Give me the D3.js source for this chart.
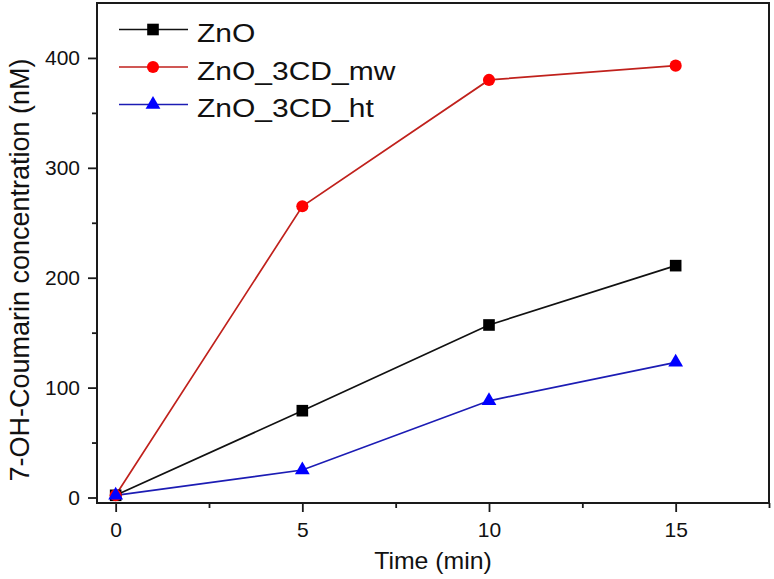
<!DOCTYPE html>
<html><head><meta charset="utf-8">
<script src="https://cdn.jsdelivr.net/npm/d3@7"></script>
<style>body{margin:0;background:#fff}svg{display:block}text{font-family:"Liberation Sans",Arial,sans-serif;fill:#111}</style>
</head><body>
<svg id="c" width="774" height="579"></svg>
<script>
const times = [0, 5, 10, 15];
const seriesNames = ["ZnO", "ZnO_3CD_mw", "ZnO_3CD_ht"];
const znoValues = [2, 79, 157, 211];
const mwValues = [2, 265, 380, 393];
const htValues = [2, 25, 88, 123];
const xTicks = [0, 5, 10, 15];
const yTicks = [0, 100, 200, 300, 400];

const svg = d3.select("#c");
const L = 97, R = 769, T = 3, B = 503;
const x = d3.scaleLinear().domain([-0.5, 17.5]).range([L, R]);
const y = d3.scaleLinear().domain([-5, 450]).range([B, T]);
const axisColor = "#1a1a1a";

// minor ticks
const xMinor = [2.5, 7.5, 12.5, 17.5];
const yMinor = [50, 150, 250, 350];
svg.append("g").attr("transform", `translate(0,${B})`)
  .call(d3.axisBottom(x).tickValues(xMinor).tickSize(5).tickFormat(""))
  .call(g => g.select(".domain").remove())
  .call(g => g.selectAll("line").attr("stroke", axisColor).attr("stroke-width", 1.8));
svg.append("g").attr("transform", `translate(${L},0)`)
  .call(d3.axisLeft(y).tickValues(yMinor).tickSize(5).tickFormat(""))
  .call(g => g.select(".domain").remove())
  .call(g => g.selectAll("line").attr("stroke", axisColor).attr("stroke-width", 1.8));

// major axes
const gx = svg.append("g").attr("transform", `translate(0,${B})`)
  .call(d3.axisBottom(x).tickValues(xTicks).tickSize(9).tickPadding(10).tickFormat(d3.format("d")));
gx.select(".domain").remove();
gx.selectAll("line").attr("stroke", axisColor).attr("stroke-width", 1.8);
gx.selectAll("text").attr("font-size", 21).attr("font-family", "Liberation Sans, Arial, sans-serif").attr("fill", "#111");

const gy = svg.append("g").attr("transform", `translate(${L},0)`)
  .call(d3.axisLeft(y).tickValues(yTicks).tickSize(9).tickPadding(8).tickFormat(d3.format("d")));
gy.select(".domain").remove();
gy.selectAll("line").attr("stroke", axisColor).attr("stroke-width", 1.8);
gy.selectAll("text").attr("font-size", 21).attr("font-family", "Liberation Sans, Arial, sans-serif").attr("fill", "#111");

// frame
svg.append("rect").attr("x", L).attr("y", T).attr("width", R - L).attr("height", B - T)
  .attr("fill", "none").attr("stroke", axisColor).attr("stroke-width", 2);

// titles
svg.append("text").attr("transform", `translate(${(L + R) / 2},569) scale(1.08,1)`)
  .attr("text-anchor", "middle").attr("font-size", 23).text("Time (min)");
svg.append("text").attr("transform", `translate(29,270) rotate(-90)`)
  .attr("text-anchor", "middle").attr("font-size", 27).text("7-OH-Coumarin concentration (nM)");

const series = [
  {name: seriesNames[0], values: znoValues, line: "#111111", fill: "#000000", shape: "square"},
  {name: seriesNames[1], values: mwValues, line: "#c0211c", fill: "#ff0000", shape: "circle"},
  {name: seriesNames[2], values: htValues, line: "#1c1cb4", fill: "#0000ff", shape: "triangle"}
];
const symType = {square: d3.symbolSquare, circle: d3.symbolCircle, triangle: d3.symbolTriangle};
const symSize = {square: 135, circle: 115, triangle: 95};

const lineGen = d3.line().x((d, i) => x(times[i])).y(d => y(d));
series.forEach(s => {
  svg.append("path").attr("d", lineGen(s.values)).attr("fill", "none")
    .attr("stroke", s.line).attr("stroke-width", 1.7);
});
series.forEach(s => {
  svg.selectAll(null).data(s.values).enter().append("path")
    .attr("transform", (d, i) => `translate(${x(times[i])},${y(d)})`)
    .attr("d", d3.symbol().type(symType[s.shape]).size(symSize[s.shape]))
    .attr("fill", s.fill);
});

// legend
const legY = [29.5, 67, 104.5];
series.forEach((s, i) => {
  const g = svg.append("g").attr("transform", `translate(0,${legY[i]})`);
  g.append("line").attr("x1", 119).attr("x2", 188).attr("y1", 0).attr("y2", 0)
    .attr("stroke", s.line).attr("stroke-width", 1.7);
  g.append("path").attr("transform", "translate(153,0)")
    .attr("d", d3.symbol().type(symType[s.shape]).size(symSize[s.shape]))
    .attr("fill", s.fill);
  g.append("text").attr("transform", "translate(197,12.5) scale(1.2,1)")
    .attr("font-size", 25).text(s.name);
});
</script>
</body></html>
